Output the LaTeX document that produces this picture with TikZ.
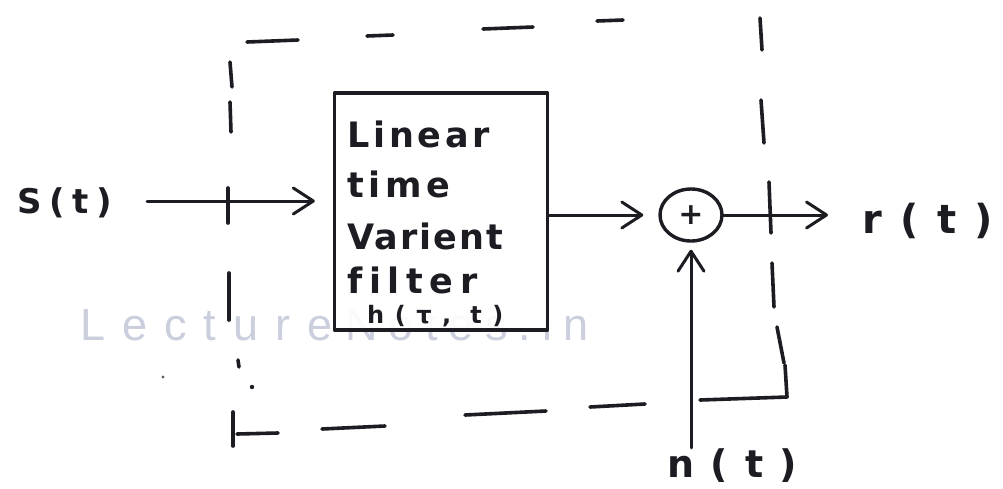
\documentclass[tikz,border=0pt]{standalone}
\usepackage{fontspec}
\setmainfont{DejaVu Sans}
\newfontfamily\wmfont{Liberation Sans}
\usetikzlibrary{arrows.meta,shapes.geometric}

\definecolor{ink}{RGB}{28,28,34}
\definecolor{wmgray}{RGB}{203,206,220}

% hand-lettered labels: size and extra letter spacing
\newcommand\handfont[2]{\bfseries\fontsize{#1}{#1}\selectfont
  \addfontfeatures{LetterSpace=#2,Ligatures=NoCommon}}
\newcommand\wmarkfont[1]{\wmfont\fontsize{45}{45}\selectfont\addfontfeatures{LetterSpace=#1}}

\tikzset{
  pen/.style={draw=ink, line width=3.4pt, line cap=round, line join=round},
  edgestroke/.style={draw=ink, line width=3.6pt, line cap=round, line join=round},
  sig/.style={draw=ink, line width=3pt, line cap=round, line join=round,
              -{Straight Barb[length=20pt,width=26pt,line cap=round,line join=round]}},
  hand/.style 2 args={text=ink, inner sep=0pt, anchor=base west, font=\handfont{#1}{#2}},
  watermark/.style={text=wmgray, inner sep=0pt, anchor=base west, font=\wmarkfont{#1}},
}

\begin{document}
\begin{tikzpicture}[x=1pt,y=-1pt]
\useasboundingbox (0,0) rectangle (1003,488);
\fill[white] (0,0) rectangle (1003,488);

% watermark lettering
\node[watermark=38] (wmA) at (80,340) {Lecture};
\node[watermark=25] (wmB) at (345,340) {Notes.in};

% filter block
\node[pen, fill=white, fill opacity=0.9, minimum width=213pt, minimum height=237pt,
      inner sep=0pt] (filter) at (441,211.5) {};
\node[hand={35}{11}] (lineA) at (347,147) {Linear};
\node[hand={35}{13}] (lineB) at (347,197) {time};
\node[hand={35}{6}] (lineC) at (347,249) {Varient};
\node[hand={35}{19}] (lineD) at (347,293) {filter};
\node[hand={24}{44}] (lineE) at (367,323) {h(τ, t)};

% summing junction
\node[pen, ellipse, minimum width=62pt, minimum height=52pt, inner sep=0pt,
      text=ink, font=\handfont{30}{0}] (sum) at (691,215) {+};

% signal labels
\node[hand={34}{23}] (sig) at (17,213) {S(t)};
\node[hand={40}{46}] (out) at (862,233) {r(t)};
\node[hand={38}{44}] (noise) at (667,477) {n(t)};

% signal paths
\coordinate (sstart) at (147,201);
\coordinate (rtip) at (828,213);
\draw[sig, shorten >=18pt] (sstart) -- (sstart -| filter.west);
\draw[sig, shorten >=15pt] (filter.east |- sum.west) -- (sum.west);
\draw[sig] (sum.east) -- (sum.east -| rtip);
\draw[sig, shorten >=7pt] (noise.north -| sum.south) -- (sum.south);

% dashed channel boundary, stroke by stroke
\draw[edgestroke] (247,42) -- (298,40);
\draw[edgestroke] (367,36) -- (393,35);
\draw[edgestroke] (483,29) -- (533,27);
\draw[edgestroke] (597,21) -- (623,20);
\draw[edgestroke] (760,18) -- (762,50);
\draw[edgestroke] (761,100) -- (764,143);
\draw[edgestroke] (769,182) -- (771,233);
\draw[edgestroke] (772,263) -- (774,307);
\draw[edgestroke] (777,327) -- (784,363);
\draw[edgestroke] (785,365) -- (787,397) -- (700,400);
\draw[edgestroke] (590,407) -- (645,404);
\draw[edgestroke] (465,415) -- (546,411);
\draw[edgestroke] (322,429) -- (385,426);
\draw[edgestroke] (233,412) -- (233,446);
\draw[edgestroke] (237,434) -- (278,433);
\draw[edgestroke] (230,62) -- (232,87);
\draw[edgestroke] (230,102) -- (231,132);
\draw[edgestroke] (228,188) -- (228,223);
\draw[edgestroke] (229,273) -- (229,320);
\draw[edgestroke] (238,360) -- (239,367);
\fill[ink] (252,387) circle (2.2pt);
\fill[ink!70] (163,377) circle (1.6pt);
\end{tikzpicture}
\end{document}
